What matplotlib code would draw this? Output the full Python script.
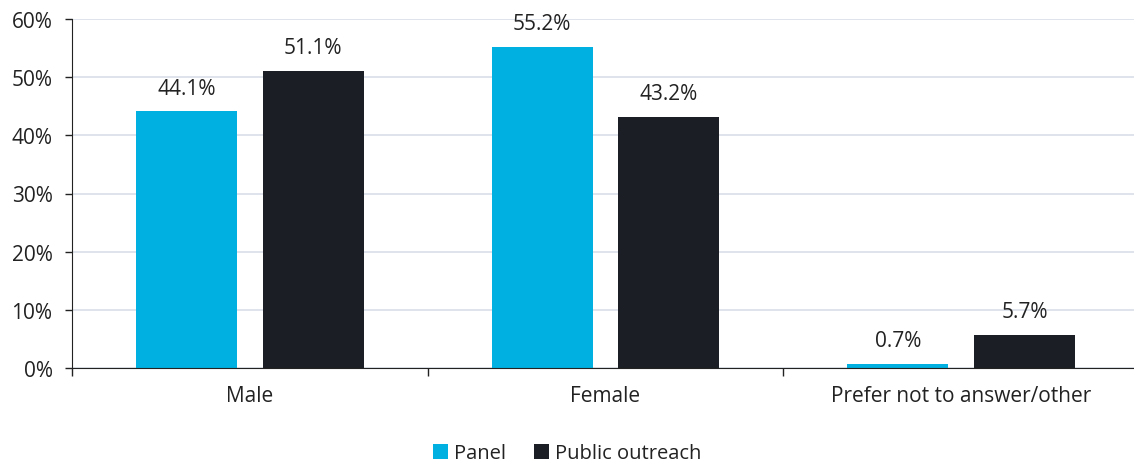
import numpy as np
import matplotlib.pyplot as plt
from matplotlib.ticker import FixedLocator, PercentFormatter

categories = ['Male', 'Female', 'Prefer not to answer/other']
panel = [44.1, 55.2, 0.7]
public_outreach = [51.1, 43.2, 5.7]
series_names = ['Panel', 'Public outreach']
colors = ['#00B0E0', '#1B1E24']

plt.rcParams['font.family'] = ['Open Sans', 'DejaVu Sans']
plt.rcParams['font.size'] = 15
text_color = '#222222'

fig = plt.figure(figsize=(11.34, 4.64), dpi=100)
ax = fig.add_axes([72 / 1134, 1 - 369 / 464, 1067 / 1134, 349 / 464])

x = np.arange(len(categories))
w = 0.284
off = 0.178
for vals, pos, c, name in [(panel, x - off, colors[0], series_names[0]),
                           (public_outreach, x + off, colors[1], series_names[1])]:
    bars = ax.bar(pos, vals, width=w, color=c, label=name, zorder=3)
    for b, v in zip(bars, vals):
        ax.annotate(f'{v:.1f}%', (b.get_x() + b.get_width() / 2, v),
                    xytext=(0, 9), textcoords='offset points',
                    ha='center', va='bottom', color=text_color)

ax.set_xlim(-0.5, len(categories) - 0.5)
ax.set_ylim(0, 60)
ax.set_yticks(range(0, 61, 10))
ax.yaxis.set_major_formatter(PercentFormatter(decimals=0))
ax.grid(axis='y', color='#D9DEE8', linewidth=1.2, zorder=0)
ax.set_xticks(x)
ax.set_xticklabels(categories)
ax.xaxis.set_minor_locator(FixedLocator(np.arange(-0.5, len(categories), 1.0)))
ax.tick_params(axis='x', which='major', length=0, pad=12, colors=text_color)
ax.tick_params(axis='x', which='minor', length=6, width=1, color='#222222')
ax.tick_params(axis='y', length=5, width=1, color='#222222', colors=text_color, pad=9)

for s in ['top', 'right']:
    ax.spines[s].set_visible(False)
ax.spines['left'].set_color('#222222')
ax.spines['bottom'].set_color('#222222')
ax.spines['bottom'].set_zorder(4)

fig.legend(loc='lower center', bbox_to_anchor=(0.5, -0.04), ncol=2, frameon=False,
           fontsize=14.5, handlelength=0.75, handleheight=0.75, handletextpad=0.3,
           columnspacing=1.4, labelcolor=text_color)

fig.savefig('out.png', dpi=100)
